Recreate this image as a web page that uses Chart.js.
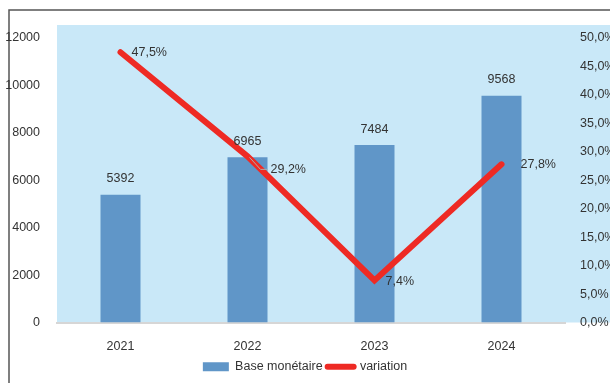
<!DOCTYPE html>
<html><head><meta charset="utf-8">
<script src="https://cdn.jsdelivr.net/npm/chart.js@4/dist/chart.umd.min.js"></script>
<style>html,body{margin:0;padding:0;background:#fff}#wrap{width:610px;height:383px;position:relative}</style>
</head><body><div id="wrap"><canvas id="c" width="610" height="383"></canvas></div>
<script>
const categories = ['2021', '2022', '2023', '2024'];
const baseMonetaire = [5392, 6965, 7484, 9568];
const variation = [47.5, 29.2, 7.4, 27.8];
const seriesNames = ['Base monétaire', 'variation'];

const FONT = '"Liberation Sans Narrow", "Arial Narrow", "Liberation Sans", Arial, sans-serif';
const FS = 12.5;
const TXT = '#333333';
const BAR = '#6096c8';
const RED = '#ee2a24';
const BG = '#c9e8f8';

const fmtPct = v => v.toFixed(1).replace('.', ',') + '%';

// label offsets for the line's value labels (style, not data)
const lineLabelOffsets = [[11, 0], [23, 13], [11, 1], [19, 0]];

const bgPlugin = {
  id: 'bgPlugin',
  beforeDraw(chart) {
    const {ctx, chartArea: ca, width, height} = chart;
    ctx.save();
    ctx.fillStyle = '#ffffff';
    ctx.fillRect(0, 0, width, height);
    ctx.fillStyle = BG;
    ctx.fillRect(ca.left, ca.top - 13, width - ca.left, ca.bottom - ca.top + 13);
    ctx.strokeStyle = '#555555';
    ctx.lineWidth = 1.5;
    ctx.beginPath();
    ctx.moveTo(9, height);
    ctx.lineTo(9, 10);
    ctx.lineTo(width, 10);
    ctx.stroke();
    ctx.restore();
  }
};

const labelPlugin = {
  id: 'labelPlugin',
  afterDatasetsDraw(chart) {
    const {ctx} = chart;
    ctx.save();
    ctx.font = FS + 'px ' + FONT;
    ctx.fillStyle = TXT;
    const barMeta = chart.getDatasetMeta(0);
    ctx.textAlign = 'center';
    ctx.textBaseline = 'middle';
    barMeta.data.forEach((el, i) => {
      ctx.fillText(String(baseMonetaire[i]), el.x, el.y - 16);
    });
    const lineMeta = chart.getDatasetMeta(1);
    ctx.textAlign = 'left';
    lineMeta.data.forEach((el, i) => {
      const [dx, dy] = lineLabelOffsets[i];
      if (dy > 5) {
        ctx.strokeStyle = '#b0b0b0';
        ctx.lineWidth = 1;
        ctx.beginPath();
        ctx.moveTo(el.x + 2, el.y + 1);
        ctx.lineTo(el.x + dx - 10, el.y + dy);
        ctx.lineTo(el.x + dx - 3, el.y + dy);
        ctx.stroke();
      }
      ctx.fillText(fmtPct(variation[i]), el.x + dx, el.y + dy);
    });
    ctx.restore();
  }
};

new Chart(document.getElementById('c'), {
  data: {
    labels: categories,
    datasets: [
      {
        type: 'bar',
        label: seriesNames[0],
        data: baseMonetaire,
        backgroundColor: BAR,
        borderWidth: 0,
        yAxisID: 'y',
        order: 1,
        categoryPercentage: 1,
        barPercentage: 0.315
      },
      {
        type: 'line',
        label: seriesNames[1],
        data: variation,
        borderColor: RED,
        backgroundColor: RED,
        borderWidth: 6,
        borderCapStyle: 'round',
        borderJoinStyle: 'miter',
        pointRadius: 0,
        tension: 0,
        yAxisID: 'y1',
        order: 0
      }
    ]
  },
  options: {
    responsive: false,
    animation: false,
    layout: {padding: {top: 38, left: 0, right: 0, bottom: 0}},
    scales: {
      x: {
        grid: {display: false},
        border: {display: true, color: '#d6d6d6', width: 2},
        ticks: {color: TXT, font: {family: FONT, size: FS}, padding: 9},
        afterFit(s) { s.height = 33; }
      },
      y: {
        position: 'left',
        min: 0, max: 12000,
        grid: {display: false},
        border: {display: false},
        ticks: {stepSize: 2000, color: TXT, font: {family: FONT, size: FS}, padding: 9, callback: v => String(v)},
        afterFit(s) { s.width = 57; }
      },
      y1: {
        position: 'right',
        min: 0, max: 50,
        grid: {display: false},
        border: {display: false},
        ticks: {stepSize: 5, color: TXT, font: {family: FONT, size: FS}, padding: 7, callback: v => fmtPct(v)},
        afterFit(s) { s.width = 45; }
      }
    },
    plugins: {
      tooltip: {enabled: false},
      legend: {
        position: 'bottom',
        labels: {
          color: TXT,
          font: {family: FONT, size: FS},
          usePointStyle: true,
          pointStyleWidth: 26,
          boxHeight: 9,
          padding: 5,
          generateLabels(chart) {
            return [
              {text: seriesNames[0], fillStyle: BAR, strokeStyle: BAR, lineWidth: 0, pointStyle: 'rect', datasetIndex: 0, fontColor: TXT},
              {text: seriesNames[1], fillStyle: RED, strokeStyle: RED, lineWidth: 6, lineCap: 'round', pointStyle: 'line', datasetIndex: 1, fontColor: TXT}
            ];
          }
        }
      }
    }
  },
  plugins: [bgPlugin, labelPlugin]
});
</script>
</body></html>
